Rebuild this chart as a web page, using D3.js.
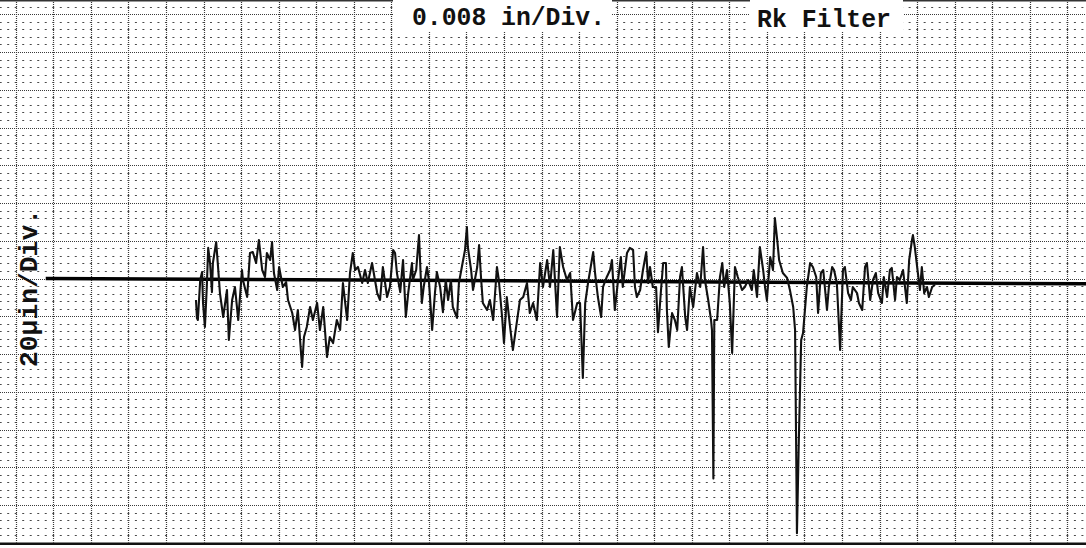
<!DOCTYPE html>
<html>
<head>
<meta charset="utf-8">
<script src="https://cdn.jsdelivr.net/npm/d3@7/dist/d3.min.js"></script>
<style>
body{margin:0;background:#fff;}
svg{display:block;background:#fff;}
</style>
</head>
<body>
<svg id="profile"></svg>
<script>
// labels
const xTitle='0.008 in/Div.';
const filterName='Rk Filter';
const yTitle='20\u03bcin/Div.';

// 8 mils (0.008 in) per horizontal div, 20 microinches per vertical div
const milsPerDiv=8;
const microInPerDiv=20;

// profile trace: position in mils, height in microinches
const profileMils=[
	38.4,38.6,38.8,39.3,39.7,39.9,40.3,40.7,41.0,41.4,41.8,42.0,42.7,43.1,43.5,44.2,45.0,45.4,46.1,46.7,
	47.4,48.2,48.4,49.3,49.9,50.5,51.2,51.8,52.5,53.1,53.5,54.2,54.6,55.0,55.7,56.1,56.9,57.6,58.0,58.9,
	59.5,60.1,61.0,61.4,62.0,62.7,63.3,64.2,64.8,65.5,66.3,66.9,67.6,68.4,69.1,69.7,70.6,71.2,71.8,72.3,
	72.9,73.8,74.4,75.0,75.9,77.0,77.6,
	78.2,79.1,79.7,80.4,80.8,81.2,81.9,82.5,83.1,83.6,84.4,84.6,85.3,85.9,86.5,86.9,87.6,88.0,88.7,89.3,
	89.7,90.4,91.0,91.6,92.1,92.7,93.1,94.0,94.4,95.3,95.7,96.1,96.3,97.0,97.4,98.3,98.7,99.1,99.5,100.4,
	101.0,101.7,102.5,102.9,103.6,104.0,104.6,105.3,105.9,106.8,107.4,108.1,108.9,109.5,110.2,111.0,111.7,112.3,113.2,113.8,
	114.5,115.3,115.9,116.6,117.4,118.1,118.7,119.6,
	120.2,120.8,121.3,121.9,123.0,123.4,124.0,124.7,125.1,125.9,126.6,127.0,127.6,128.3,128.9,129.3,130.2,130.8,131.5,131.9,
	132.3,133.0,133.6,134.3,134.7,135.1,135.7,136.4,136.8,137.4,137.9,138.5,138.7,139.1,139.8,140.4,140.9,141.5,141.9,142.6,
	143.0,143.6,144.3,145.1,145.8,146.4,146.8,147.5,148.1,148.3,148.6,148.8,149.4,150.0,150.5,150.9,151.5,152.1,152.6,153.2,
	153.8,154.7,155.3,156.0,156.8,157.2,157.9,158.5,
	159.2,159.6,160.0,160.7,161.3,161.7,162.2,162.6,163.4,164.3,164.9,165.6,166.0,166.4,166.8,167.0,167.3,167.7,168.5,169.2,
	169.8,170.5,170.9,171.5,172.0,172.8,173.2,173.9,174.3,174.9,175.6,176.2,176.6,177.3,177.9,178.3,179.2,179.6,180.3,180.9,
	181.3,182.0,182.6,183.2,183.7,184.5,184.9,185.6,186.2,186.6,187.3,187.7,188.3,189.0,189.8,190.3,190.9,191.1,191.5,192.0,
	192.6,193.0,193.5,194.1,194.5,195.2,195.8
];
const profileMicroIn=[
	-11.4,-20.9,-22.0,-0.8,3.4,-13.0,-25.7,-4.5,16.2,8.2,-7.2,8.2,19.3,6.1,-7.7,-20.4,-6.1,-32.6,-11.4,-4.5,
	-22.0,4.5,-0.8,-9.8,13.5,14.0,8.2,20.4,4.5,0.8,13.5,9.8,19.3,2.9,-6.1,6.1,-4.5,-1.9,-11.4,-18.3,
	-27.3,-16.7,-46.9,-31.0,-25.7,-15.1,-22.0,-13.0,-27.3,-15.1,-41.6,-31.0,-34.2,-22.0,-27.3,-2.4,-22.0,2.9,13.5,4.5,
	6.1,-2.4,4.5,-2.4,8.2,-7.7,-11.4,
	6.1,-9.8,-4.5,15.1,13.5,2.9,-7.2,9.8,-20.4,-7.7,8.2,-0.8,4.5,23.0,-13.0,-4.5,6.1,-0.8,-27.3,-7.7,
	3.4,-4.5,-17.8,-0.8,-11.4,-0.8,-15.1,-20.9,-2.4,9.8,15.1,27.3,16.7,4.5,-6.1,6.1,17.7,0.8,-13.0,-16.7,
	-11.4,-22.0,6.1,-0.8,-20.4,-34.2,-9.8,-25.7,-37.9,-22.0,-11.4,-9.8,-2.4,-18.3,-13.0,-22.0,8.2,-4.5,9.8,-4.5,
	15.1,-20.4,16.7,6.1,-0.8,2.9,-22.0,-13.0,
	-13.0,-52.7,-13.0,-2.4,14.0,2.9,-9.8,-20.4,-4.5,0.8,4.5,9.8,-16.7,-0.8,11.4,-4.5,13.5,16.2,15.1,-4.5,
	-9.8,-6.1,4.5,14.0,-2.4,6.1,-4.5,-4.5,-28.4,-7.7,8.2,8.2,-16.7,-36.3,-18.3,-22.0,-27.3,0.8,6.1,-20.4,
	-27.3,-4.5,-15.1,2.9,-4.5,16.7,-0.8,-11.4,-22.0,-27.3,-106.0,-22.0,-22.0,0.8,8.2,-4.5,4.5,-13.0,-39.5,6.1,
	0.8,-6.1,-4.5,-0.8,-6.1,4.5,-9.8,16.7,
	4.5,-4.5,-11.4,11.4,4.5,32.0,20.4,9.8,2.9,0.3,-6.1,-15.1,-27.3,-134.9,-85.6,-64.4,-32.6,-28.9,-4.5,8.2,
	6.1,0.8,-18.3,2.9,4.5,-16.7,-4.5,6.1,4.5,-2.4,-37.9,4.5,6.1,-7.7,-11.4,-4.5,-7.7,-13.0,-16.7,6.1,
	8.2,-11.4,-0.8,2.9,-7.7,-13.0,0.8,-9.8,4.5,5.6,-11.4,0.8,-0.8,4.5,-13.0,9.8,20.4,23.0,16.7,6.1,
	-6.1,6.1,-7.7,-4.5,-9.8,-4.5,-3.4
];

// reference (mean) line drawn by the recorder, slightly tilted
const zeroLineMils=[6.4,228.0];
const zeroLineMicroIn=[0,-2.8];

const width=1086,height=548;
const svg=d3.select('svg#profile').attr('width',width).attr('height',height);

const scaleX=d3.scaleLinear().domain([0,29*milsPerDiv]).range([15.7,15.7+29*37.56]);
const scaleY=d3.scaleLinear().domain([-7*microInPerDiv,7*microInPerDiv]).range([542.75,14.25]);

const yBottom=scaleY(-7*microInPerDiv);

// minor dot rows (5 per div), dashes placed on each minor column
const minorStep=milsPerDiv/5;
const minorRows=d3.range(-35,40).filter(i=>i%5!==0).map(i=>i*microInPerDiv/5);
const rowStart=scaleX(-10*minorStep)-1;
const grid=svg.append('g').attr('id','grid');
grid.selectAll('line.minor').data(minorRows).enter().append('line')
	.attr('class','minor')
	.attr('x1',rowStart).attr('x2',width+10)
	.attr('y1',d=>Math.round(scaleY(d))+0.5).attr('y2',d=>Math.round(scaleY(d))+0.5)
	.attr('stroke','#4a4a4a')
	.attr('stroke-width',1)
	.attr('stroke-dasharray',`2 ${scaleX(minorStep)-scaleX(0)-2}`);

// major lines, finely dotted
const majorRows=d3.range(-7,9).map(i=>i*microInPerDiv);
grid.selectAll('line.hmajor').data(majorRows).enter().append('line')
	.attr('class','hmajor')
	.attr('x1',0).attr('x2',width)
	.attr('y1',d=>Math.round(scaleY(d))+0.5).attr('y2',d=>Math.round(scaleY(d))+0.5)
	.attr('stroke','#3a3a3a')
	.attr('stroke-width',1)
	.attr('stroke-dasharray','1 1');

const majorCols=d3.range(-1,30).map(i=>i*milsPerDiv);
grid.selectAll('line.vmajor').data(majorCols).enter().append('line')
	.attr('class','vmajor')
	.attr('x1',d=>Math.round(scaleX(d))+0.5).attr('x2',d=>Math.round(scaleX(d))+0.5)
	.attr('y1',0).attr('y2',yBottom)
	.attr('stroke','#3a3a3a')
	.attr('stroke-width',1.2)
	.attr('stroke-dasharray','1 1');

// chart borders
svg.append('line').attr('x1',0).attr('x2',width).attr('y1',0.8).attr('y2',0.8)
	.attr('stroke','#333').attr('stroke-width',1.6);
svg.append('rect').attr('x',0).attr('y',yBottom).attr('width',width).attr('height',height-yBottom)
	.attr('fill','#fff');
svg.append('line').attr('x1',0).attr('x2',width).attr('y1',yBottom+1).attr('y2',yBottom+1)
	.attr('stroke','#111').attr('stroke-width',2.5);

// labels with paper cleared behind them
const labels=svg.append('g').attr('id','labels')
	.style('font-family','"Liberation Mono","Courier New",monospace')
	.style('font-weight','bold')
	.style('font-size','26.5px')
	.attr('fill','#111');

function clearBehind(node,padL,padR){
	const b=node.getBBox();
	labels.insert('rect',':first-child')
		.attr('x',b.x-padL).attr('y',0)
		.attr('width',b.width+padL+padR).attr('height',32)
		.attr('fill','#fff');
}

const t1=labels.append('text').text(xTitle).attr('x',412).attr('y',25)
	.attr('textLength',193).attr('lengthAdjust','spacingAndGlyphs');
clearBehind(t1.node(),19,7);
const t2=labels.append('text').text(filterName).attr('x',757).attr('y',26.5)
	.attr('textLength',134).attr('lengthAdjust','spacingAndGlyphs');
clearBehind(t2.node(),7,12);
labels.append('text').text(yTitle)
	.attr('transform','translate(37,367) rotate(-90)')
	.attr('textLength',158).attr('lengthAdjust','spacingAndGlyphs');

// recorder reference line
const line=d3.line().x(d=>scaleX(d[0])).y(d=>scaleY(d[1]));
svg.append('path')
	.datum(d3.zip(zeroLineMils,zeroLineMicroIn))
	.attr('d',line)
	.attr('fill','none')
	.attr('stroke','#000')
	.attr('stroke-width',3.5);

// profile trace
svg.append('path')
	.datum(d3.zip(profileMils,profileMicroIn))
	.attr('d',line)
	.attr('fill','none')
	.attr('stroke','#111')
	.attr('stroke-width',2.1)
	.attr('stroke-linejoin','round');
</script>
</body>
</html>
